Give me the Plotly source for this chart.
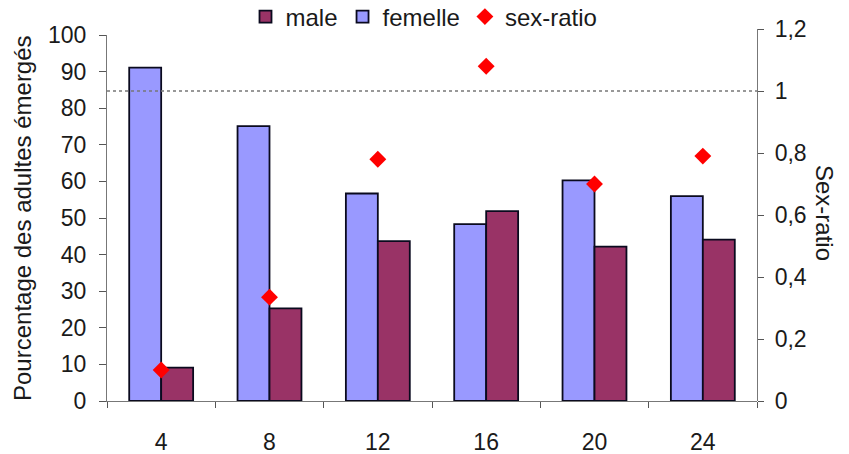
import plotly.graph_objects as go

categories = ["4", "8", "12", "16", "20", "24"]
femelle = [91.1, 75.1, 56.7, 48.3, 60.3, 56.0]
male = [9.1, 25.3, 43.7, 51.9, 42.2, 44.1]
sex_ratio = [0.10, 0.335, 0.78, 1.08, 0.70, 0.79]

FONT = "Liberation Sans, Arial, sans-serif"
TICKF = dict(size=23, color="#1a1a1a")
fig = go.Figure()
fig.add_trace(go.Bar(x=categories, y=femelle, name="femelle", legendrank=2,
                     marker=dict(color="#9999FF", line=dict(color="#0a0a1e", width=1.8))))
fig.add_trace(go.Bar(x=categories, y=male, name="male", legendrank=1,
                     marker=dict(color="#993366", line=dict(color="#0a0a1e", width=1.8))))
fig.add_trace(go.Scatter(x=categories, y=sex_ratio, name="sex-ratio", mode="markers", yaxis="y2",
                         legendrank=3,
                         marker=dict(symbol="diamond", color="#FF0000", size=13)))

fig.add_shape(type="line", xref="paper", yref="y2", x0=0, x1=1, y0=1, y1=1,
              line=dict(color="#777777", width=1.3, dash="dot"))

fig.update_layout(
    width=849, height=454,
    margin=dict(l=107, r=92, t=29, b=53, autoexpand=False),
    paper_bgcolor="white", plot_bgcolor="rgba(0,0,0,0)",
    separators=",.",
    font=dict(family=FONT, size=23, color="#1a1a1a"),
    barmode="group", bargap=0.41, bargroupgap=0,
    showlegend=True,
    legend=dict(orientation="h", x=(424 - 107) / 650, xanchor="center",
                y=(401 - 17) / 372, yanchor="middle",
                font=dict(size=24), itemwidth=30, tracegroupgap=0, bgcolor="rgba(0,0,0,0)"),
    xaxis=dict(type="category", showline=True, linecolor="#777777", linewidth=1.2,
               ticks="outside", tickson="boundaries", ticklen=6, tickcolor="#555555",
               tickfont=TICKF, showgrid=False, zeroline=False, automargin=False,
               ticklabelstandoff=20),
    yaxis=dict(range=[0, 100], domain=[0, 366/372], tickvals=list(range(0, 101, 10)),
               showline=True, linecolor="#777777", linewidth=1.2, automargin=False,
               ticks="outside", ticklen=7, tickcolor="#555555", showgrid=False, zeroline=False,
               tickfont=TICKF, ticklabelstandoff=8),
    yaxis2=dict(range=[0, 1.2], domain=[0, 1], anchor="x", side="right",
                tickvals=[0, 0.2, 0.4, 0.6, 0.8, 1.0, 1.2], automargin=False,
                showline=True, linecolor="#777777", linewidth=1.2,
                ticks="outside", ticklen=6, tickcolor="#555555", showgrid=False, zeroline=False,
                tickfont=TICKF, ticklabelstandoff=6),
)
fig.add_annotation(text="Pourcentage des adultes émergés", xref="paper", yref="paper",
                   x=(22 - 107) / 650, y=(401 - 218) / 372, xanchor="center", yanchor="middle",
                   showarrow=False, textangle=-90, font=dict(size=24))
fig.add_annotation(text="Sex-ratio", xref="paper", yref="paper",
                   x=(825 - 107) / 650, y=(401 - 213) / 372, xanchor="center", yanchor="middle",
                   showarrow=False, textangle=90, font=dict(size=24))

fig.write_html("out.html", config={"displayModeBar": False},
               post_script="document.body.style.margin='0';document.body.style.padding='0';")
